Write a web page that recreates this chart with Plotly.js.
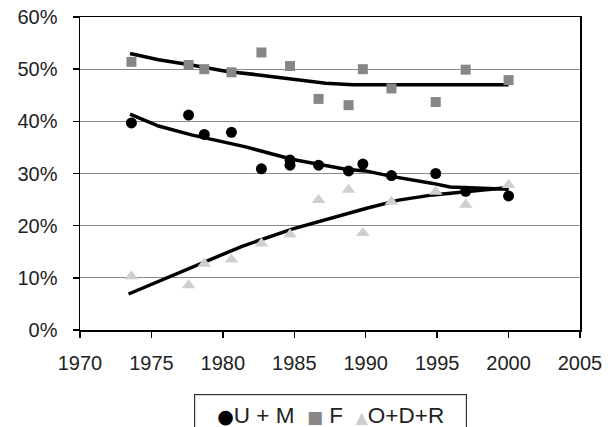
<!DOCTYPE html>
<html>
<head>
<meta charset="utf-8">
<script src="https://cdn.plot.ly/plotly-3.0.1.min.js"></script>
<style>html,body{margin:0;padding:0;background:#fff;}#chart{width:612px;height:427px;}</style>
</head>
<body>
<div id="chart"></div>
<script>
// Observation years
const years = [1973.6, 1977.6, 1978.7, 1980.6, 1982.7, 1984.7, 1984.7, 1986.7, 1988.8, 1989.8, 1991.8, 1994.9, 1997.0, 2000.0];
// Shares (%)
const umValues = [39.7, 41.2, 37.5, 37.9, 30.9, 32.6, 31.6, 31.6, 30.5, 31.8, 29.6, 30.0, 26.6, 25.7];
const yearsF = [1973.6, 1977.6, 1978.7, 1980.6, 1982.7, 1984.7, 1986.7, 1988.8, 1989.8, 1991.8, 1994.9, 1997.0, 2000.0];
const fValues = [51.4, 50.8, 50.0, 49.4, 53.2, 50.6, 44.3, 43.1, 50.0, 46.3, 43.7, 49.9, 47.9];
const odrValues = [10.3, 8.6, 12.7, 13.5, 16.6, 18.3, 24.9, 26.9, 18.6, 24.6, 26.5, 24.0, 27.8];

// Trend lines
const trendUMx = [1973.5, 1975.5, 1977.8, 1981.6, 1984.9, 1988.6, 1990.0, 1991.9, 1994.7, 1995.9, 2000.0];
const trendUMy = [41.4, 39.1, 37.4, 35.1, 32.7, 30.8, 30.5, 29.4, 28.1, 27.4, 27.0];
const trendFx = [1973.5, 1975.5, 1977.8, 1980.2, 1982.5, 1984.9, 1987.2, 1989.1, 1992.3, 2000.0];
const trendFy = [53.0, 51.8, 50.8, 49.6, 48.9, 48.1, 47.3, 47.0, 47.0, 47.0];
const trendOx = [1973.4, 1975.5, 1978.3, 1981.3, 1984.9, 1987.5, 1990.0, 1992.3, 1994.7, 1997.0, 2000.0];
const trendOy = [6.9, 9.3, 12.5, 16.0, 19.4, 21.4, 23.3, 24.9, 25.9, 26.5, 27.3];

const xTicks = [1970, 1975, 1980, 1985, 1990, 1995, 2000, 2005];
const yTicks = [0, 10, 20, 30, 40, 50, 60];
const yTickText = ["0%", "10%", "20%", "30%", "40%", "50%", "60%"];
const seriesNames = ["U + M", "F", "O+D+R"];
const seriesColors = ["#000000", "#878787", "#cfcfcf"];

const lineStyle = {color: '#000', width: 3.5};
const traces = [
  {x: trendFx, y: trendFy, mode: 'lines', line: lineStyle, showlegend: false, hoverinfo: 'skip'},
  {x: trendUMx, y: trendUMy, mode: 'lines', line: lineStyle, showlegend: false, hoverinfo: 'skip'},
  {x: trendOx, y: trendOy, mode: 'lines', line: lineStyle, showlegend: false, hoverinfo: 'skip'},
  {x: years, y: umValues, mode: 'markers', name: seriesNames[0], showlegend: false,
   marker: {symbol: 'circle', size: 11, color: seriesColors[0]}},
  {x: yearsF, y: fValues, mode: 'markers', name: seriesNames[1], showlegend: false,
   marker: {symbol: 'square', size: 10, color: seriesColors[1]}},
  {x: yearsF, y: odrValues, mode: 'markers', name: seriesNames[2], showlegend: false,
   marker: {symbol: 'triangle-up', size: 12, color: seriesColors[2]}}
];

// compact legend drawn as a boxed annotation
const sym = (ch, color, size) =>
  '<span style="color:' + color + ';font-family:DejaVu Sans;font-size:' + size + 'px">' + ch + '</span>';
const legendText =
  sym('●', seriesColors[0], 19) + seriesNames[0] + '&nbsp; ' +
  sym('■', seriesColors[1], 17) + '&nbsp;' + seriesNames[1] + '&nbsp; ' +
  sym('▲', seriesColors[2], 16) + seriesNames[2];

const layout = {
  width: 612, height: 427,
  margin: {l: 80, r: 32, t: 17, b: 97},
  paper_bgcolor: '#fff', plot_bgcolor: '#fff',
  font: {family: 'Liberation Sans, Arial, sans-serif', size: 20, color: '#222'},
  showlegend: false,
  xaxis: {
    range: [1970, 2005], tickvals: xTicks, ticktext: xTicks.map(String),
    showgrid: false, zeroline: false, showline: true, linecolor: '#000', linewidth: 1.5,
    mirror: true, ticks: 'outside', ticklen: 6, tickcolor: '#000', tickwidth: 1.5,
    ticklabelstandoff: 8
  },
  yaxis: {
    range: [0, 60], tickvals: yTicks, ticktext: yTickText,
    showgrid: true, gridcolor: '#8a8a8a', gridwidth: 1.2, zeroline: false,
    showline: true, linecolor: '#000', linewidth: 1.5, mirror: true,
    ticks: 'outside', ticklen: 6, tickcolor: '#000', tickwidth: 1.5,
    ticklabelstandoff: 11
  },
  annotations: [{
    xref: 'paper', yref: 'paper', x: 0.5, xanchor: 'center',
    y: -0.2045, yanchor: 'top', showarrow: false,
    text: legendText, font: {size: 22.5, color: '#222'},
    width: 259, height: 28, align: 'center', valign: 'middle',
    bordercolor: '#333', borderwidth: 1.2, borderpad: 6, bgcolor: '#fff'
  }]
};

Plotly.newPlot('chart', traces, layout, {staticPlot: true, displayModeBar: false});
</script>
</body>
</html>
